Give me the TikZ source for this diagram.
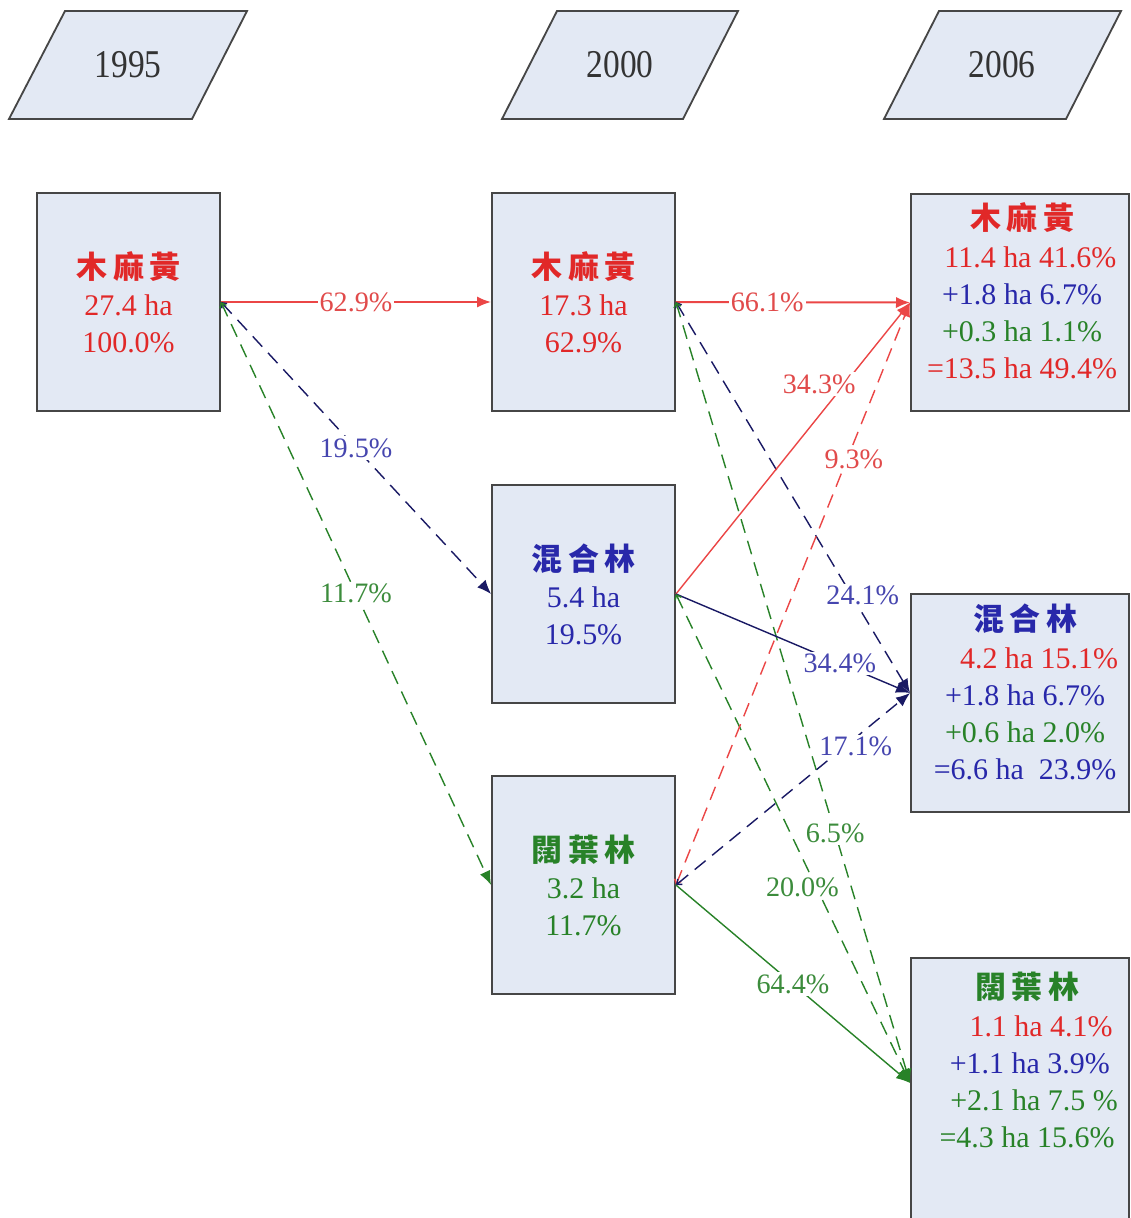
\documentclass[tikz,border=0pt]{standalone}
\usepackage{fontspec}
\setmainfont{Liberation Serif}
\newfontfamily\cjk{Noto Sans CJK TC}[LetterSpace=18]
\newfontfamily\yearfont{Liberation Serif}[FakeStretch=0.85]
\usetikzlibrary{arrows.meta,calc}
\definecolor{lred}{RGB}{235,70,70}
\definecolor{lnavy}{RGB}{25,25,100}
\definecolor{lgreen}{RGB}{40,130,40}
\definecolor{tred}{RGB}{225,40,40}
\definecolor{tblue}{RGB}{40,40,170}
\definecolor{lblue}{RGB}{70,70,175}
\definecolor{tgreen}{RGB}{40,130,40}
\definecolor{labred}{RGB}{225,75,75}
\definecolor{labgreen}{RGB}{60,140,60}
\definecolor{boxfill}{RGB}{227,233,244}
\definecolor{boxline}{RGB}{70,70,70}
\newcommand{\ttl}[1]{{\cjk\bfseries\fontsize{22}{26.3}\selectfont #1}}
\begin{document}
\begin{tikzpicture}[x=0.025cm,y=-0.025cm,
  yearshape/.style={draw=boxline,line width=1.3pt,fill=boxfill},
  yeartext/.style={font=\yearfont\fontsize{28}{30}\selectfont,text=black!80},
  stbox/.style={draw=boxline,line width=1.3pt,fill=boxfill,minimum width=4.575cm,minimum height=5.45cm,inner sep=0pt,align=center,font=\fontsize{21.3}{26.3}\selectfont},
  endbox/.style={draw=boxline,line width=1.3pt,fill=boxfill,minimum width=5.45cm,inner sep=0pt},
  endtext/.style={align=center,font=\fontsize{21.3}{26.3}\selectfont,inner sep=0pt},
  lab/.style={fill=white,inner sep=1.5pt,font=\fontsize{20}{22}\selectfont},
  solidarr/.style={line width=1pt,-{Latex[length=10pt,width=8pt]}},
  dasharr/.style={line width=1pt,dash pattern=on 10pt off 6pt,{Straight Barb[length=3pt,width=5pt]}-{Latex[length=10pt,width=8pt]}}
]
\useasboundingbox (0,0) rectangle (1131,1218);

% year parallelograms
\draw[yearshape] (65,11) -- (247,11) -- (192,119) -- (9,119) -- cycle;
\node[yeartext] (y1995) at (128,65) {1995};
\draw[yearshape] (557,11) -- (738,11) -- (683,119) -- (502,119) -- cycle;
\node[yeartext] (y2000) at (620,65) {2000};
\draw[yearshape] (939,11) -- (1121,11) -- (1066,119) -- (884,119) -- cycle;
\node[yeartext] (y2006) at (1002,65) {2006};

% 1995
\node[stbox,text=tred] (A1) at (128.5,302) {\ttl{木麻黃}\\27.4 ha\\100.0\%};
% 2000
\node[stbox,text=tred] (B1) at (583.5,302) {\ttl{木麻黃}\\17.3 ha\\62.9\%};
\node[stbox,text=tblue] (B2) at (583.5,594) {\ttl{混合林}\\5.4 ha\\19.5\%};
\node[stbox,text=tgreen] (B3) at (583.5,885) {\ttl{闊葉林}\\3.2 ha\\11.7\%};
% 2006
\node[endbox,minimum height=5.425cm] (C1) at (1020,302.5) {};
\node[endbox,minimum height=5.45cm] (C2) at (1020,703) {};
\node[endbox,minimum height=6.8cm] (C3) at (1020,1094) {};

\node[endtext] (C1t) at (1022,291) {\ttl{\textcolor{tred}{木麻黃}}\\[1pt]
  \hspace*{12pt}\textcolor{tred}{11.4 ha 41.6\%}\\
  \textcolor{tblue}{+1.8 ha 6.7\%}\\
  \textcolor{tgreen}{+0.3 ha 1.1\%}\\
  \textcolor{tred}{=13.5 ha 49.4\%}};
\node[endtext] (C2t) at (1025,692) {\ttl{\textcolor{tblue}{混合林}}\\[1pt]
  \hspace*{20pt}\textcolor{tred}{4.2 ha 15.1\%}\\
  \textcolor{tblue}{+1.8 ha 6.7\%}\\
  \textcolor{tgreen}{+0.6 ha 2.0\%}\\
  \textcolor{tblue}{=6.6 ha \ 23.9\%}};
\node[endtext] (C3t) at (1027,1060) {\ttl{\textcolor{tgreen}{闊葉林}}\\[1pt]
  \hspace*{20pt}\textcolor{tred}{1.1 ha 4.1\%}\\
  \hspace*{4pt}\textcolor{tblue}{+1.1 ha 3.9\%}\\
  \hspace*{10pt}\textcolor{tgreen}{+2.1 ha 7.5 \%}\\
  \textcolor{tgreen}{=4.3 ha 15.6\%}};

\coordinate (C1in) at (C1.west);
\coordinate (C2in) at ($(C2.west)+(0,-10)$);
\coordinate (C3in) at ($(C2.west)+(0,380)$);

% 1995 -> 2000
\draw[solidarr,lred,line width=1.4pt] (A1.east) -- node[lab,text=labred,pos=0.5]{62.9\%} (B1.west);
\draw[dasharr,lnavy] (A1.east) -- node[lab,text=lblue,pos=0.5]{19.5\%} (B2.west);
\draw[dasharr,lgreen] (A1.east) -- node[lab,text=labgreen,pos=0.5]{11.7\%} (B3.west);

% 2000 -> 2006 from B1
\draw[solidarr,lred,line width=1.4pt] (B1.east) -- node[lab,text=labred,pos=0.39]{66.1\%} (C1in);
\draw[dasharr,lnavy] (B1.east) -- node[lab,text=lblue,pos=0.75,xshift=8pt]{24.1\%} (C2in);
\draw[dasharr,lgreen] (B1.east) -- node[lab,text=labgreen,pos=0.68]{6.5\%} (C3in);

% from B2
\draw[solidarr,lred] (B2.east) -- node[lab,text=labred,pos=0.72,xshift=-18pt]{34.3\%} (C1in);
\draw[solidarr,lnavy] (B2.east) -- node[lab,text=lblue,pos=0.70]{34.4\%} (C2in);
\draw[dasharr,lgreen] (B2.east) -- node[lab,text=labgreen,pos=0.6,xshift=-10pt]{20.0\%} (C3in);

% from B3
\draw[dasharr,lred] (B3.east) -- node[lab,text=labred,pos=0.73,xshift=5pt]{9.3\%} (C1in);
\draw[dasharr,lnavy] (B3.east) -- node[lab,text=lblue,pos=0.72,xshift=8pt]{17.1\%} (C2in);
\draw[solidarr,lgreen] (B3.east) -- node[lab,text=labgreen,pos=0.5]{64.4\%} (C3in);
\end{tikzpicture}
\end{document}
